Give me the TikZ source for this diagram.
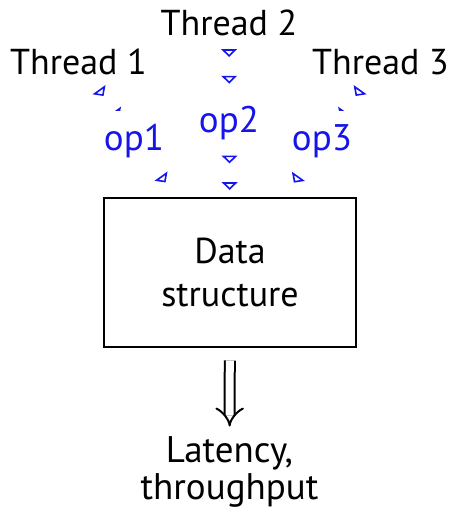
\documentclass[tikz,border=0pt]{standalone}
\usepackage{fontspec}
\setmainfont{PT Sans}
\usetikzlibrary{arrows.meta,decorations.markings}
\definecolor{opblue}{RGB}{20,20,235}
\begin{document}
\begin{tikzpicture}[x=0.5pt,y=-0.5pt,
  thread/.style={font=\fontsize{18}{21}\selectfont, text height=13pt, text depth=0pt,
    inner xsep=2pt, inner ysep=11pt, outer sep=0pt},
  opnode/.style={font=\fontsize{18.5}{21}\selectfont, text=opblue, fill=white,
    inner sep=6.5pt, anchor=base},
  tiplink/.style={decorate,
    decoration={markings, mark=between positions 0 and 1 step 13.3pt with
      {\arrow{Triangle[open, color=opblue, length=3.9pt, width=7.8pt, line width=0.8pt]}}}},
  dsbox/.style={draw, line width=1pt, minimum width=126pt, minimum height=74.5pt,
    align=center, font=\fontsize{18}{21.5}\selectfont},
  outcome/.style={align=center, font=\fontsize{18.5}{18.5}\selectfont},
  implies/.style={double, line width=1pt, double distance=4pt, -{Implies[scale=1.5]},
    shorten <=6.25pt, shorten >=1.5pt}
]
\useasboundingbox (0,0) rectangle (452,516);
\node[thread] (t1) at (78.5,61) {Thread 1};
\node[thread] (t2) at (229,22) {Thread 2};
\node[thread] (t3) at (380.5,61) {Thread 3};
\node[dsbox] (box) at (230,272.5) {Data\\structure};
\path[tiplink] (t1) -- (box);
\path[tiplink] (t2) -- (box);
\path[tiplink] (t3) -- (box);
\node[opnode] (op1) at (134,150) {op1};
\node[opnode] (op2) at (229,132) {op2};
\node[opnode] (op3) at (322,150) {op3};
\node[outcome] (lat) at (229.5,472) {Latency,\\throughput};
\draw[implies] (box) -- (lat);
\end{tikzpicture}
\end{document}
